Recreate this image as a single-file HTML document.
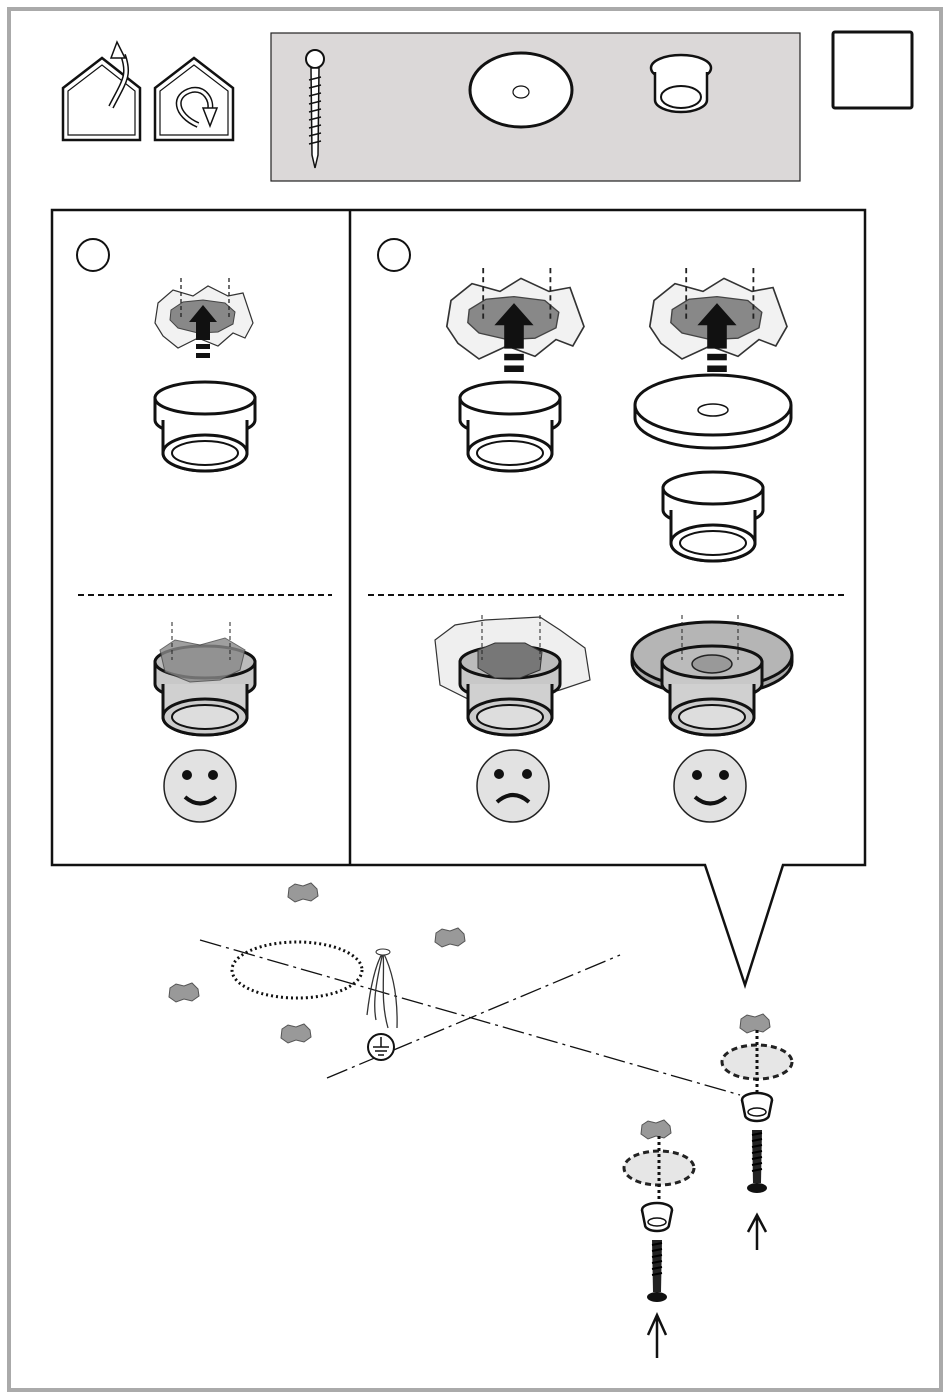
<!DOCTYPE html>
<html><head><style>html,body{margin:0;padding:0;background:#fff}svg{display:block}</style></head><body>
<svg width="950" height="1399" viewBox="0 0 950 1399" xmlns="http://www.w3.org/2000/svg">
<defs>
<g id="bush">
  <path d="M-50,0 L-50,22 A50,16 0 0 0 50,22 L50,0 Z" fill="#fff" stroke="#111" stroke-width="3"/>
  <ellipse cx="0" cy="0" rx="50" ry="16" fill="#fff" stroke="#111" stroke-width="3"/>
  <path d="M-42,22 L-42,55 A42,18 0 0 0 42,55 L42,22" fill="#fff" stroke="#111" stroke-width="3"/>
  <ellipse cx="0" cy="55" rx="42" ry="18" fill="#fff" stroke="#111" stroke-width="3"/>
  <ellipse cx="0" cy="55" rx="33" ry="12" fill="#fff" stroke="#111" stroke-width="2"/>
</g>
<g id="bushg">
  <path d="M-50,0 L-50,22 A50,16 0 0 0 50,22 L50,0 Z" fill="#c8c8c8" stroke="#111" stroke-width="3"/>
  <ellipse cx="0" cy="0" rx="50" ry="16" fill="#bbb" stroke="#111" stroke-width="3"/>
  <path d="M-42,22 L-42,55 A42,18 0 0 0 42,55 L42,22" fill="#d0d0d0" stroke="#111" stroke-width="3"/>
  <ellipse cx="0" cy="55" rx="42" ry="18" fill="#ccc" stroke="#111" stroke-width="3"/>
  <ellipse cx="0" cy="55" rx="33" ry="12" fill="#ddd" stroke="#111" stroke-width="2"/>
</g>
<g id="hole">
  <path d="M-45,-15 L-30,-28 L-10,-22 L5,-32 L25,-22 L40,-25 L45,-10 L50,5 L42,20 L30,15 L15,28 L-5,20 L-25,30 L-40,18 L-48,5 Z" fill="#f2f2f2" stroke="#333" stroke-width="1.2"/>
  <path d="M-32,-8 L-20,-16 L0,-18 L22,-15 L32,-6 L30,6 L15,14 L-5,15 L-25,10 L-33,2 Z" fill="#888" stroke="#444" stroke-width="1"/>
  <line x1="-22" y1="-40" x2="-22" y2="0" stroke="#222" stroke-dasharray="4,3" stroke-width="1.3"/>
  <line x1="26" y1="-40" x2="26" y2="0" stroke="#222" stroke-dasharray="4,3" stroke-width="1.3"/>
  <path d="M0,-13 L-14,4 L-7,4 L-7,22 L7,22 L7,4 L14,4 Z" fill="#111"/>
  <rect x="-7" y="26" width="14" height="5" fill="#111"/>
  <rect x="-7" y="35" width="14" height="5" fill="#111"/>
</g>
<g id="splat">
  <path d="M-14,-5 L-8,-9 L0,-7 L8,-10 L14,-4 L15,3 L8,8 L0,6 L-8,9 L-15,4 Z" fill="#999" stroke="#555" stroke-width="1"/>
</g>
</defs>
<rect x="9" y="9" width="932" height="1381" fill="#fff" stroke="#aaa" stroke-width="4"/>

<!-- house icons -->
<path d="M63,140 L63,88 L102,58 L140,88 L140,140 Z" fill="none" stroke="#111" stroke-width="2.5"/>
<path d="M68,135 L68,91 L102,65 L135,91 L135,135 Z" fill="none" stroke="#111" stroke-width="1.2"/>
<path d="M155,140 L155,88 L194,58 L233,88 L233,140 Z" fill="none" stroke="#111" stroke-width="2.5"/>
<path d="M160,135 L160,91 L194,65 L228,91 L228,135 Z" fill="none" stroke="#111" stroke-width="1.2"/>
<path d="M56,107 C70,80 75,75 68,55" fill="none" stroke="#111" stroke-width="6" transform="translate(55,0)"/>
<path d="M56,107 C70,80 75,75 68,55" fill="none" stroke="#fff" stroke-width="3" transform="translate(55,0)"/>
<path d="M117,42 L111,58 L125,58 Z" fill="#fff" stroke="#111" stroke-width="1.5"/>
<path d="M198,125 C175,115 172,95 192,90 C205,88 212,100 210,110" fill="none" stroke="#111" stroke-width="6"/>
<path d="M198,125 C175,115 172,95 192,90 C205,88 212,100 210,110" fill="none" stroke="#fff" stroke-width="3"/>
<path d="M203,108 L217,108 L210,126 Z" fill="#fff" stroke="#111" stroke-width="1.5"/>

<!-- parts box -->
<rect x="271" y="33" width="529" height="148" fill="#dbd8d8" stroke="#222" stroke-width="1.2"/>
<circle cx="315" cy="59" r="9" fill="#fff" stroke="#111" stroke-width="2"/>
<path d="M311,68 L319,68 L318,155 L315,168 L312,155 Z" fill="#fff" stroke="#111" stroke-width="1.5"/>
<path d="M309,80 L321,77 M309,88 L321,85 M309,96 L321,93 M309,104 L321,101 M309,112 L321,109 M309,120 L321,117 M309,128 L321,125 M309,136 L321,133 M309,144 L321,141" stroke="#111" stroke-width="1.5"/>
<ellipse cx="521" cy="90" rx="51" ry="37" fill="#fff" stroke="#111" stroke-width="3"/>
<ellipse cx="521" cy="92" rx="8" ry="6" fill="#fff" stroke="#111" stroke-width="1.2"/>
<ellipse cx="681" cy="68" rx="30" ry="13" fill="#fff" stroke="#111" stroke-width="2.5"/>
<path d="M655,72 L655,100 A26,12 0 0 0 707,100 L707,72" fill="#fff" stroke="#111" stroke-width="2.5"/>
<ellipse cx="681" cy="97" rx="20" ry="11" fill="#fff" stroke="#111" stroke-width="2"/>
<rect x="833" y="32" width="79" height="76" rx="2" fill="#fff" stroke="#111" stroke-width="3"/>

<!-- main panel with callout -->
<path d="M52,210 L865,210 L865,865 L783,865 L745,985 L705,865 L52,865 Z" fill="#fff" stroke="#111" stroke-width="2.5"/>
<line x1="350" y1="210" x2="350" y2="865" stroke="#111" stroke-width="2.5"/>
<circle cx="93" cy="255" r="16" fill="#fff" stroke="#111" stroke-width="2"/>
<circle cx="394" cy="255" r="16" fill="#fff" stroke="#111" stroke-width="2"/>
<line x1="78" y1="595" x2="332" y2="595" stroke="#111" stroke-width="2" stroke-dasharray="6,4"/>
<line x1="368" y1="595" x2="848" y2="595" stroke="#111" stroke-width="2" stroke-dasharray="6,4"/>

<use href="#hole" x="203" y="318"/>
<use href="#hole" x="514" y="320" transform="translate(514,320) scale(1.4,1.3) translate(-514,-320)"/>
<use href="#hole" x="717" y="320" transform="translate(717,320) scale(1.4,1.3) translate(-717,-320)"/>

<use href="#bush" x="205" y="398"/>
<use href="#bush" x="510" y="398"/>
<path d="M635,405 L635,418 A78,30 0 0 0 791,418 L791,405" fill="#fff" stroke="#111" stroke-width="3"/>
<ellipse cx="713" cy="405" rx="78" ry="30" fill="#fff" stroke="#111" stroke-width="3"/>
<ellipse cx="713" cy="410" rx="15" ry="6" fill="#fff" stroke="#111" stroke-width="1.5"/>
<use href="#bush" x="713" y="488"/>

<!-- bottom row -->
<use href="#bushg" x="205" y="662"/>
<path d="M160,650 L175,640 L200,645 L225,638 L245,650 L240,670 L220,680 L190,682 L165,672 Z" fill="#888" stroke="#444" opacity="0.8"/>
<line x1="172" y1="622" x2="172" y2="660" stroke="#222" stroke-dasharray="4,3"/>
<line x1="230" y1="622" x2="230" y2="660" stroke="#222" stroke-dasharray="4,3"/>

<path d="M435,640 L455,625 L485,620 L540,617 L560,630 L585,648 L590,680 L560,690 L520,700 L470,700 L440,685 Z" fill="#efefef" stroke="#333" stroke-width="1.2"/>
<use href="#bushg" x="510" y="662"/>
<path d="M478,650 L495,643 L525,643 L542,652 L540,670 L520,678 L495,678 L478,668 Z" fill="#777" stroke="#333"/>
<line x1="482" y1="615" x2="482" y2="660" stroke="#222" stroke-dasharray="4,3"/>
<line x1="540" y1="615" x2="540" y2="660" stroke="#222" stroke-dasharray="4,3"/>

<path d="M632,655 L632,662 A80,33 0 0 0 792,662 L792,655" fill="#aaa" stroke="#111" stroke-width="3"/>
<ellipse cx="712" cy="655" rx="80" ry="33" fill="#b5b5b5" stroke="#111" stroke-width="3"/>
<use href="#bushg" x="712" y="662"/>
<ellipse cx="712" cy="664" rx="20" ry="9" fill="#999" stroke="#222" stroke-width="1.5"/>
<line x1="682" y1="615" x2="682" y2="660" stroke="#222" stroke-dasharray="4,3"/>
<line x1="738" y1="615" x2="738" y2="660" stroke="#222" stroke-dasharray="4,3"/>

<!-- smileys -->
<g stroke="#222" stroke-width="1.5">
<circle cx="200" cy="786" r="36" fill="#e2e2e2"/>
<circle cx="513" cy="786" r="36" fill="#e2e2e2"/>
<circle cx="710" cy="786" r="36" fill="#e2e2e2"/>
</g>
<g fill="#111">
<circle cx="187" cy="775" r="5"/><circle cx="213" cy="775" r="5"/>
<circle cx="499" cy="774" r="5"/><circle cx="527" cy="774" r="5"/>
<circle cx="697" cy="775" r="5"/><circle cx="724" cy="775" r="5"/>
</g>
<path d="M185,797 Q200,810 216,797" fill="none" stroke="#111" stroke-width="4"/>
<path d="M497,802 Q513,788 529,802" fill="none" stroke="#111" stroke-width="4"/>
<path d="M695,797 Q710,810 726,797" fill="none" stroke="#111" stroke-width="4"/>

<!-- bottom area -->
<line x1="200" y1="940" x2="740" y2="1095" stroke="#111" stroke-width="1.3" stroke-dasharray="22,5,3,5"/>
<line x1="327" y1="1078" x2="620" y2="955" stroke="#111" stroke-width="1.3" stroke-dasharray="22,5,3,5"/>
<ellipse cx="297" cy="970" rx="65" ry="28" fill="none" stroke="#111" stroke-width="3" stroke-dasharray="2,3"/>
<use href="#splat" x="303" y="893"/>
<use href="#splat" x="450" y="938"/>
<use href="#splat" x="184" y="993"/>
<use href="#splat" x="296" y="1034"/>
<path d="M383,952 C375,965 370,990 367,1015 M383,952 C385,975 380,1000 388,1028 M383,952 C392,970 398,995 397,1028 M383,952 C378,975 372,1000 376,1020" fill="none" stroke="#333" stroke-width="1.3"/>
<ellipse cx="383" cy="952" rx="7" ry="3" fill="#fff" stroke="#333"/>
<circle cx="381" cy="1047" r="13" fill="#fff" stroke="#111" stroke-width="2"/>
<path d="M381,1037 L381,1047 M373,1047 L389,1047 M375,1051 L387,1051 M378,1055 L384,1055" stroke="#111" stroke-width="1.5"/>

<!-- right assembly -->
<use href="#splat" x="755" y="1024"/>
<ellipse cx="757" cy="1062" rx="35" ry="17" fill="#e6e6e6" stroke="#222" stroke-width="3" stroke-dasharray="6,4"/>
<line x1="757" y1="1030" x2="757" y2="1095" stroke="#111" stroke-width="3" stroke-dasharray="3,3"/>
<ellipse cx="757" cy="1100" rx="15" ry="7" fill="#fff" stroke="#111" stroke-width="2.5"/>
<path d="M742,1100 L745,1115 A12,6 0 0 0 769,1115 L772,1100" fill="#fff" stroke="#111" stroke-width="2.5"/>
<ellipse cx="757" cy="1112" rx="9" ry="4" fill="#fff" stroke="#111" stroke-width="1.5"/>
<path d="M752,1130 L762,1130 L761,1183 L753,1183 Z" fill="#222"/>
<path d="M752,1135 L762,1133 M752,1141 L762,1139 M752,1147 L762,1145 M752,1153 L762,1151 M752,1159 L762,1157 M752,1165 L762,1163 M752,1171 L762,1169" stroke="#000" stroke-width="2"/>
<ellipse cx="757" cy="1188" rx="10" ry="5" fill="#111"/>
<path d="M757,1250 L757,1218 M748,1232 L757,1215 L766,1232" fill="none" stroke="#111" stroke-width="2.5"/>

<!-- left assembly -->
<use href="#splat" x="656" y="1130"/>
<ellipse cx="659" cy="1168" rx="35" ry="17" fill="#e6e6e6" stroke="#222" stroke-width="3" stroke-dasharray="6,4"/>
<line x1="659" y1="1136" x2="659" y2="1205" stroke="#111" stroke-width="3" stroke-dasharray="3,3"/>
<ellipse cx="657" cy="1210" rx="15" ry="7" fill="#fff" stroke="#111" stroke-width="2.5"/>
<path d="M642,1210 L645,1225 A12,6 0 0 0 669,1225 L672,1210" fill="#fff" stroke="#111" stroke-width="2.5"/>
<ellipse cx="657" cy="1222" rx="9" ry="4" fill="#fff" stroke="#111" stroke-width="1.5"/>
<path d="M652,1240 L662,1240 L661,1292 L653,1292 Z" fill="#222"/>
<path d="M652,1245 L662,1243 M652,1251 L662,1249 M652,1257 L662,1255 M652,1263 L662,1261 M652,1269 L662,1267 M652,1275 L662,1273" stroke="#000" stroke-width="2"/>
<ellipse cx="657" cy="1297" rx="10" ry="5" fill="#111"/>
<path d="M657,1358 L657,1318 M648,1335 L657,1315 L666,1335" fill="none" stroke="#111" stroke-width="2.5"/>
</svg>
</body></html>
